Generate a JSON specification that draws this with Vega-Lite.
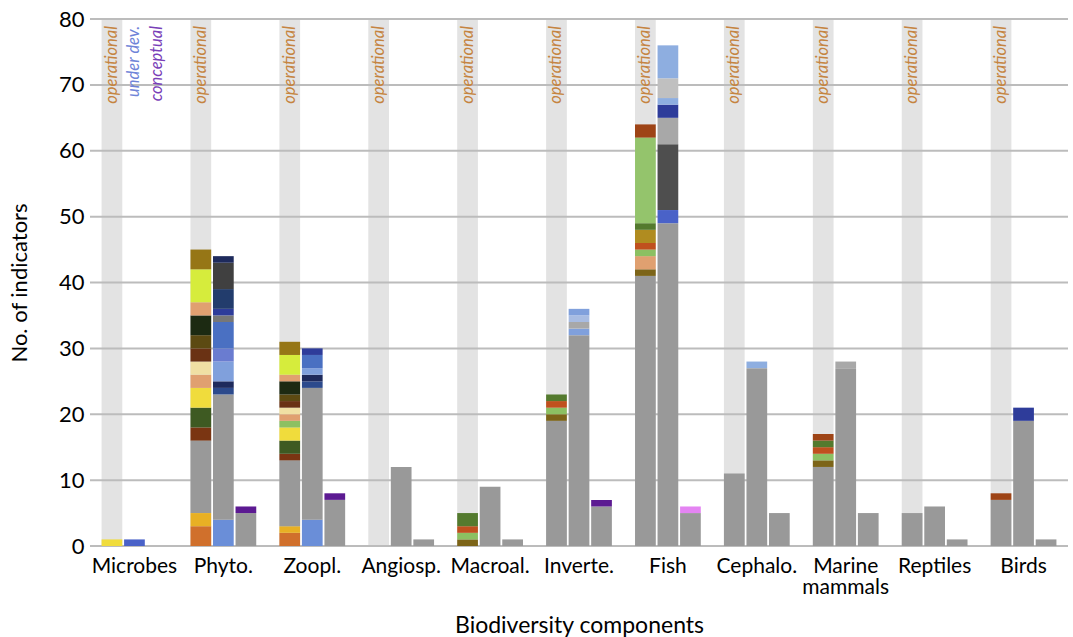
{
  "$schema": "https://vega.github.io/schema/vega-lite/v6.json",
  "width": 978,
  "height": 527,
  "autosize": {"type": "none"},
  "padding": {"left": 90, "top": 19, "right": 5, "bottom": 91},
  "config": {"font": "Lato", "view": {"stroke": null}},
  "datasets": {
    "bands": [
      {"c": "Microbes", "s": "operational", "top": 80},
      {"c": "Phyto.", "s": "operational", "top": 80},
      {"c": "Zoopl.", "s": "operational", "top": 80},
      {"c": "Angiosp.", "s": "operational", "top": 80},
      {"c": "Macroal.", "s": "operational", "top": 80},
      {"c": "Inverte.", "s": "operational", "top": 80},
      {"c": "Fish", "s": "operational", "top": 80},
      {"c": "Cephalo.", "s": "operational", "top": 80},
      {"c": "Marine mammals", "s": "operational", "top": 80},
      {"c": "Reptiles", "s": "operational", "top": 80},
      {"c": "Birds", "s": "operational", "top": 80}
    ],
    "grid": [{"top": 0}, {"top": 10}, {"top": 20}, {"top": 30}, {"top": 40}, {"top": 50}, {"top": 60}, {"top": 70}, {"top": 80}],
    "labels": [
      {"c": "Microbes", "s": "operational", "label": "operational", "top": 80},
      {"c": "Microbes", "s": "under dev.", "label": "under dev.", "top": 80},
      {"c": "Microbes", "s": "conceptual", "label": "conceptual", "top": 80},
      {"c": "Phyto.", "s": "operational", "label": "operational", "top": 80},
      {"c": "Zoopl.", "s": "operational", "label": "operational", "top": 80},
      {"c": "Angiosp.", "s": "operational", "label": "operational", "top": 80},
      {"c": "Macroal.", "s": "operational", "label": "operational", "top": 80},
      {"c": "Inverte.", "s": "operational", "label": "operational", "top": 80},
      {"c": "Fish", "s": "operational", "label": "operational", "top": 80},
      {"c": "Cephalo.", "s": "operational", "label": "operational", "top": 80},
      {"c": "Marine mammals", "s": "operational", "label": "operational", "top": 80},
      {"c": "Reptiles", "s": "operational", "label": "operational", "top": 80},
      {"c": "Birds", "s": "operational", "label": "operational", "top": 80}
    ],
    "segs": [
      {"c": "Microbes", "s": "operational", "t": "yellow", "top": 1, "o": 1},
      {"c": "Microbes", "s": "under dev.", "t": "fishblue", "top": 1, "o": 1},

      {"c": "Phyto.", "s": "operational", "t": "orange", "top": 3, "o": 1},
      {"c": "Phyto.", "s": "operational", "t": "gold", "top": 2, "o": 2},
      {"c": "Phyto.", "s": "operational", "t": "grey", "top": 11, "o": 3},
      {"c": "Phyto.", "s": "operational", "t": "rust", "top": 2, "o": 4},
      {"c": "Phyto.", "s": "operational", "t": "dkgreen", "top": 3, "o": 5},
      {"c": "Phyto.", "s": "operational", "t": "yellow", "top": 3, "o": 6},
      {"c": "Phyto.", "s": "operational", "t": "tan", "top": 2, "o": 7},
      {"c": "Phyto.", "s": "operational", "t": "paleyellow", "top": 2, "o": 8},
      {"c": "Phyto.", "s": "operational", "t": "brown", "top": 2, "o": 9},
      {"c": "Phyto.", "s": "operational", "t": "olive", "top": 2, "o": 10},
      {"c": "Phyto.", "s": "operational", "t": "vdkgreen", "top": 3, "o": 11},
      {"c": "Phyto.", "s": "operational", "t": "tan", "top": 2, "o": 12},
      {"c": "Phyto.", "s": "operational", "t": "yellowgreen", "top": 5, "o": 13},
      {"c": "Phyto.", "s": "operational", "t": "oldgold", "top": 3, "o": 14},
      {"c": "Phyto.", "s": "under dev.", "t": "ltblue", "top": 4, "o": 1},
      {"c": "Phyto.", "s": "under dev.", "t": "grey", "top": 19, "o": 2},
      {"c": "Phyto.", "s": "under dev.", "t": "navy2", "top": 1, "o": 3},
      {"c": "Phyto.", "s": "under dev.", "t": "navy", "top": 1, "o": 4},
      {"c": "Phyto.", "s": "under dev.", "t": "periwinkle", "top": 3, "o": 5},
      {"c": "Phyto.", "s": "under dev.", "t": "purpleblue", "top": 2, "o": 6},
      {"c": "Phyto.", "s": "under dev.", "t": "blue", "top": 4, "o": 7},
      {"c": "Phyto.", "s": "under dev.", "t": "midgrey", "top": 1, "o": 8},
      {"c": "Phyto.", "s": "under dev.", "t": "royal", "top": 1, "o": 9},
      {"c": "Phyto.", "s": "under dev.", "t": "dkslate", "top": 3, "o": 10},
      {"c": "Phyto.", "s": "under dev.", "t": "dkgrey", "top": 4, "o": 11},
      {"c": "Phyto.", "s": "under dev.", "t": "navy", "top": 1, "o": 12},
      {"c": "Phyto.", "s": "conceptual", "t": "grey", "top": 5, "o": 1},
      {"c": "Phyto.", "s": "conceptual", "t": "purple", "top": 1, "o": 2},

      {"c": "Zoopl.", "s": "operational", "t": "orange", "top": 2, "o": 1},
      {"c": "Zoopl.", "s": "operational", "t": "gold", "top": 1, "o": 2},
      {"c": "Zoopl.", "s": "operational", "t": "grey", "top": 10, "o": 3},
      {"c": "Zoopl.", "s": "operational", "t": "rust", "top": 1, "o": 4},
      {"c": "Zoopl.", "s": "operational", "t": "dkgreen", "top": 2, "o": 5},
      {"c": "Zoopl.", "s": "operational", "t": "yellow", "top": 2, "o": 6},
      {"c": "Zoopl.", "s": "operational", "t": "ltgreen", "top": 1, "o": 7},
      {"c": "Zoopl.", "s": "operational", "t": "tan", "top": 1, "o": 8},
      {"c": "Zoopl.", "s": "operational", "t": "paleyellow", "top": 1, "o": 9},
      {"c": "Zoopl.", "s": "operational", "t": "brown", "top": 1, "o": 10},
      {"c": "Zoopl.", "s": "operational", "t": "olive", "top": 1, "o": 11},
      {"c": "Zoopl.", "s": "operational", "t": "vdkgreen", "top": 2, "o": 12},
      {"c": "Zoopl.", "s": "operational", "t": "tan", "top": 1, "o": 13},
      {"c": "Zoopl.", "s": "operational", "t": "yellowgreen", "top": 3, "o": 14},
      {"c": "Zoopl.", "s": "operational", "t": "oldgold", "top": 2, "o": 15},
      {"c": "Zoopl.", "s": "under dev.", "t": "ltblue", "top": 4, "o": 1},
      {"c": "Zoopl.", "s": "under dev.", "t": "grey", "top": 20, "o": 2},
      {"c": "Zoopl.", "s": "under dev.", "t": "navy2", "top": 1, "o": 3},
      {"c": "Zoopl.", "s": "under dev.", "t": "navy", "top": 1, "o": 4},
      {"c": "Zoopl.", "s": "under dev.", "t": "periwinkle", "top": 1, "o": 5},
      {"c": "Zoopl.", "s": "under dev.", "t": "blue", "top": 2, "o": 6},
      {"c": "Zoopl.", "s": "under dev.", "t": "royal", "top": 1, "o": 7},
      {"c": "Zoopl.", "s": "conceptual", "t": "grey", "top": 7, "o": 1},
      {"c": "Zoopl.", "s": "conceptual", "t": "purple", "top": 1, "o": 2},

      {"c": "Angiosp.", "s": "under dev.", "t": "grey", "top": 12, "o": 1},
      {"c": "Angiosp.", "s": "conceptual", "t": "grey", "top": 1, "o": 1},

      {"c": "Macroal.", "s": "operational", "t": "oliveB", "top": 1, "o": 1},
      {"c": "Macroal.", "s": "operational", "t": "ltgreen", "top": 1, "o": 2},
      {"c": "Macroal.", "s": "operational", "t": "orred", "top": 1, "o": 3},
      {"c": "Macroal.", "s": "operational", "t": "midgreen", "top": 2, "o": 4},
      {"c": "Macroal.", "s": "under dev.", "t": "grey", "top": 9, "o": 1},
      {"c": "Macroal.", "s": "conceptual", "t": "grey", "top": 1, "o": 1},

      {"c": "Inverte.", "s": "operational", "t": "grey", "top": 19, "o": 1},
      {"c": "Inverte.", "s": "operational", "t": "oliveB", "top": 1, "o": 2},
      {"c": "Inverte.", "s": "operational", "t": "ltgreen", "top": 1, "o": 3},
      {"c": "Inverte.", "s": "operational", "t": "orred", "top": 1, "o": 4},
      {"c": "Inverte.", "s": "operational", "t": "midgreen", "top": 1, "o": 5},
      {"c": "Inverte.", "s": "under dev.", "t": "grey", "top": 32, "o": 1},
      {"c": "Inverte.", "s": "under dev.", "t": "periwinkle", "top": 1, "o": 2},
      {"c": "Inverte.", "s": "under dev.", "t": "lgrey", "top": 1, "o": 3},
      {"c": "Inverte.", "s": "under dev.", "t": "palblue", "top": 1, "o": 4},
      {"c": "Inverte.", "s": "under dev.", "t": "periwinkle", "top": 1, "o": 5},
      {"c": "Inverte.", "s": "conceptual", "t": "grey", "top": 6, "o": 1},
      {"c": "Inverte.", "s": "conceptual", "t": "purple", "top": 1, "o": 2},

      {"c": "Fish", "s": "operational", "t": "grey", "top": 41, "o": 1},
      {"c": "Fish", "s": "operational", "t": "oliveB", "top": 1, "o": 2},
      {"c": "Fish", "s": "operational", "t": "tan", "top": 2, "o": 3},
      {"c": "Fish", "s": "operational", "t": "ltgreen", "top": 1, "o": 4},
      {"c": "Fish", "s": "operational", "t": "orred", "top": 1, "o": 5},
      {"c": "Fish", "s": "operational", "t": "mustard", "top": 2, "o": 6},
      {"c": "Fish", "s": "operational", "t": "midgreen", "top": 1, "o": 7},
      {"c": "Fish", "s": "operational", "t": "fishgreen", "top": 13, "o": 8},
      {"c": "Fish", "s": "operational", "t": "rust2", "top": 2, "o": 9},
      {"c": "Fish", "s": "under dev.", "t": "grey", "top": 49, "o": 1},
      {"c": "Fish", "s": "under dev.", "t": "fishblue", "top": 2, "o": 2},
      {"c": "Fish", "s": "under dev.", "t": "fishdkgrey", "top": 10, "o": 3},
      {"c": "Fish", "s": "under dev.", "t": "lgrey", "top": 4, "o": 4},
      {"c": "Fish", "s": "under dev.", "t": "royal", "top": 2, "o": 5},
      {"c": "Fish", "s": "under dev.", "t": "skyblue", "top": 1, "o": 6},
      {"c": "Fish", "s": "under dev.", "t": "pgrey", "top": 3, "o": 7},
      {"c": "Fish", "s": "under dev.", "t": "skyblue", "top": 5, "o": 8},
      {"c": "Fish", "s": "conceptual", "t": "grey", "top": 5, "o": 1},
      {"c": "Fish", "s": "conceptual", "t": "pink", "top": 1, "o": 2},

      {"c": "Cephalo.", "s": "operational", "t": "grey", "top": 11, "o": 1},
      {"c": "Cephalo.", "s": "under dev.", "t": "grey", "top": 27, "o": 1},
      {"c": "Cephalo.", "s": "under dev.", "t": "skyblue", "top": 1, "o": 2},
      {"c": "Cephalo.", "s": "conceptual", "t": "grey", "top": 5, "o": 1},

      {"c": "Marine mammals", "s": "operational", "t": "grey", "top": 12, "o": 1},
      {"c": "Marine mammals", "s": "operational", "t": "oliveB", "top": 1, "o": 2},
      {"c": "Marine mammals", "s": "operational", "t": "ltgreen", "top": 1, "o": 3},
      {"c": "Marine mammals", "s": "operational", "t": "orred", "top": 1, "o": 4},
      {"c": "Marine mammals", "s": "operational", "t": "midgreen", "top": 1, "o": 5},
      {"c": "Marine mammals", "s": "operational", "t": "rust2", "top": 1, "o": 6},
      {"c": "Marine mammals", "s": "under dev.", "t": "grey", "top": 27, "o": 1},
      {"c": "Marine mammals", "s": "under dev.", "t": "lgrey", "top": 1, "o": 2},
      {"c": "Marine mammals", "s": "conceptual", "t": "grey", "top": 5, "o": 1},

      {"c": "Reptiles", "s": "operational", "t": "grey", "top": 5, "o": 1},
      {"c": "Reptiles", "s": "under dev.", "t": "grey", "top": 6, "o": 1},
      {"c": "Reptiles", "s": "conceptual", "t": "grey", "top": 1, "o": 1},

      {"c": "Birds", "s": "operational", "t": "grey", "top": 7, "o": 1},
      {"c": "Birds", "s": "operational", "t": "rust2", "top": 1, "o": 2},
      {"c": "Birds", "s": "under dev.", "t": "grey", "top": 19, "o": 1},
      {"c": "Birds", "s": "under dev.", "t": "royal", "top": 2, "o": 2},
      {"c": "Birds", "s": "conceptual", "t": "grey", "top": 1, "o": 1}
    ]
  },
  "encoding": {
    "y": {
      "field": "top", "type": "quantitative",
      "scale": {"domain": [0, 80], "nice": false},
      "axis": {
        "title": "No. of indicators", "titleFontSize": 22, "titleFontWeight": "normal", "titleColor": "#000", "titlePadding": 27,
        "values": [0, 10, 20, 30, 40, 50, 60, 70, 80], "labelFontSize": 22, "labelColor": "#000", "labelPadding": 6,
        "ticks": false, "domain": false, "grid": false
      }
    }
  },
  "layer": [
    {
      "data": {"name": "bands"},
      "mark": {"type": "bar", "color": "#e3e3e3"},
      "encoding": {
        "x": {
          "field": "c", "type": "nominal",
          "scale": {"domain": ["Microbes", "Phyto.", "Zoopl.", "Angiosp.", "Macroal.", "Inverte.", "Fish", "Cephalo.", "Marine mammals", "Reptiles", "Birds"], "paddingInner": 0.24, "paddingOuter": 0.12},
          "axis": {
            "title": "Biodiversity components", "titleFontSize": 23, "titleFontWeight": "normal", "titleColor": "#000", "titlePadding": 17,
            "labelAngle": 0, "labelFontSize": 21, "labelColor": "#000", "labelPadding": 9, "labelLineHeight": 21,
            "labelExpr": "datum.value == 'Marine mammals' ? ['Marine', 'mammals'] : datum.value",
            "ticks": false, "domain": false, "grid": false
          }
        },
        "xOffset": {"field": "s", "type": "nominal", "scale": {"domain": ["operational", "under dev.", "conceptual"], "paddingInner": 0.08, "paddingOuter": 0.04}}
      }
    },
    {
      "data": {"name": "grid"},
      "mark": {"type": "rule", "color": "#bcbcbc", "strokeWidth": 2},
      "encoding": {}
    },
    {
      "data": {"name": "segs"},
      "mark": {"type": "bar"},
      "encoding": {
        "x": {"field": "c", "type": "nominal", "title": "Biodiversity components"},
        "xOffset": {"field": "s", "type": "nominal"},
        "y": {"field": "top", "type": "quantitative", "stack": "zero", "title": "No. of indicators"},
        "order": {"field": "o", "type": "quantitative"},
        "color": {
          "field": "t", "type": "nominal", "legend": null,
          "scale": {
            "domain": ["grey", "orange", "gold", "rust", "dkgreen", "yellow", "tan", "paleyellow", "brown", "olive", "vdkgreen", "yellowgreen", "oldgold", "ltgreen", "oliveB", "orred", "midgreen", "mustard", "fishgreen", "rust2", "ltblue", "navy2", "navy", "periwinkle", "purpleblue", "blue", "midgrey", "royal", "dkslate", "dkgrey", "fishblue", "fishdkgrey", "lgrey", "skyblue", "pgrey", "palblue", "purple", "pink"],
            "range": ["#999999", "#d0702c", "#e8b024", "#7a3512", "#3e5a22", "#f0dc3c", "#e0a070", "#f0e0a4", "#6a3214", "#5c4a12", "#1c2a12", "#d6ec3c", "#967616", "#8cc062", "#7c6418", "#c0501e", "#547a2e", "#b08c20", "#94c46c", "#9e4416", "#6a8ed8", "#2c4a8c", "#1e2a5c", "#80a0dc", "#6a7cd0", "#4a70c2", "#777777", "#2e3c9a", "#223c6c", "#404040", "#4a62c8", "#4e4e4e", "#a8a8a8", "#8eaee0", "#c0c0c0", "#a8bce2", "#5c1a92", "#e484f2"]
          }
        }
      }
    },
    {
      "data": {"name": "labels"},
      "mark": {"type": "text", "angle": 270, "align": "right", "baseline": "middle", "dx": -7, "fontStyle": "italic", "fontSize": 16.5},
      "encoding": {
        "x": {"field": "c", "type": "nominal", "title": "Biodiversity components"},
        "xOffset": {"field": "s", "type": "nominal"},
        "text": {"field": "label"},
        "color": {
          "field": "s", "type": "nominal", "legend": null,
          "scale": {"domain": ["operational", "under dev.", "conceptual"], "range": ["#c58440", "#6f84d8", "#7a3fb8"]}
        }
      }
    }
  ],
  "resolve": {"scale": {"color": "independent"}}
}
